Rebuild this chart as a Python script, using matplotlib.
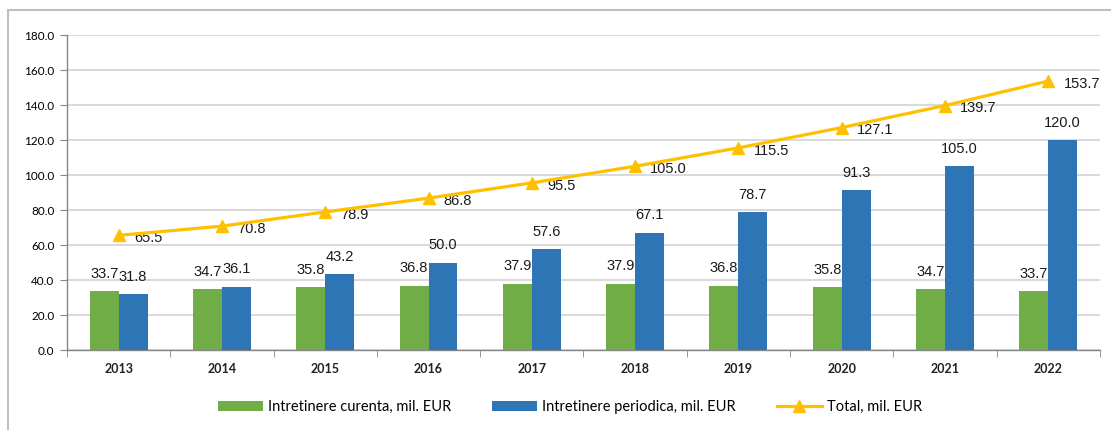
import numpy as np
import matplotlib
matplotlib.use("Agg")
import matplotlib.pyplot as plt
from matplotlib.patches import Rectangle

years = ["2013", "2014", "2015", "2016", "2017", "2018", "2019", "2020", "2021", "2022"]
curenta = [33.7, 34.7, 35.8, 36.8, 37.9, 37.9, 36.8, 35.8, 34.7, 33.7]
periodica = [31.8, 36.1, 43.2, 50.0, 57.6, 67.1, 78.7, 91.3, 105.0, 120.0]
total = [65.5, 70.8, 78.9, 86.8, 95.5, 105.0, 115.5, 127.1, 139.7, 153.7]

GREEN = "#70AD47"
BLUE = "#2E75B6"
GOLD = "#FFC000"

fig = plt.figure(figsize=(11.11, 4.30), dpi=100)
ax = fig.add_axes([0.0603, 0.186, 0.9297, 0.7326])

x = np.arange(len(years))
w = 0.28
b1 = ax.bar(x - w / 2, curenta, w, color=GREEN, label="Intretinere curenta, mil. EUR", zorder=3)
b2 = ax.bar(x + w / 2, periodica, w, color=BLUE, label="Intretinere periodica, mil. EUR", zorder=3)
ln, = ax.plot(x, total, color=GOLD, lw=2.3, marker="^", markersize=9,
              label="Total, mil. EUR", zorder=4)

lab_font = dict(family="Liberation Sans", fontsize=10.5, color="#1a1a1a")
for xi, v in zip(x - w / 2, curenta):
    ax.annotate(f"{v:.1f}", (xi, v), xytext=(0, 7.5), textcoords="offset points",
                ha="center", va="bottom", **lab_font)
for xi, v in zip(x + w / 2, periodica):
    ax.annotate(f"{v:.1f}", (xi, v), xytext=(0, 7.5), textcoords="offset points",
                ha="center", va="bottom", **lab_font)
for xi, v in zip(x, total):
    ax.annotate(f"{v:.1f}", (xi, v), xytext=(11, -2), textcoords="offset points",
                ha="left", va="center", **lab_font)

ax.set_xlim(-0.5, len(years) - 0.5)
ax.set_ylim(0, 180)
ax.set_yticks(np.arange(0, 181, 20))
ax.set_yticklabels([f"{t:.1f}" for t in np.arange(0, 181, 20)], family="Lato", fontsize=8.5)
ax.set_xticks(x)
ax.set_xticklabels(years, family="Lato", fontsize=9, fontweight="bold", color="#222222")
ax.set_xticks(np.arange(-0.5, len(years)), minor=True)
ax.tick_params(axis="x", which="major", length=0, pad=9)
ax.tick_params(axis="x", which="minor", length=5, color="#868686")
ax.tick_params(axis="y", length=5, color="#868686", pad=4)

ax.grid(axis="y", color="#D9D9D9", lw=1.4, zorder=0)
for s in ["top", "right"]:
    ax.spines[s].set_visible(False)
for s in ["left", "bottom"]:
    ax.spines[s].set_color("#868686")
    ax.spines[s].set_linewidth(1.0)

fig.legend(handles=[b1, b2, ln], loc="center", bbox_to_anchor=(0.513, 1 - 407 / 430),
           ncol=3, frameon=False, prop={"family": "Lato", "size": 10.5},
           handlelength=3.1, handletextpad=0.35, columnspacing=2.8)

fig.patches.append(Rectangle((8 / 1111, -0.2), 1.2, 1.2 - 10 / 430, transform=fig.transFigure,
                             fill=False, edgecolor="#BFBFBF", lw=1.5, zorder=0))

fig.savefig("out.png", dpi=100)
